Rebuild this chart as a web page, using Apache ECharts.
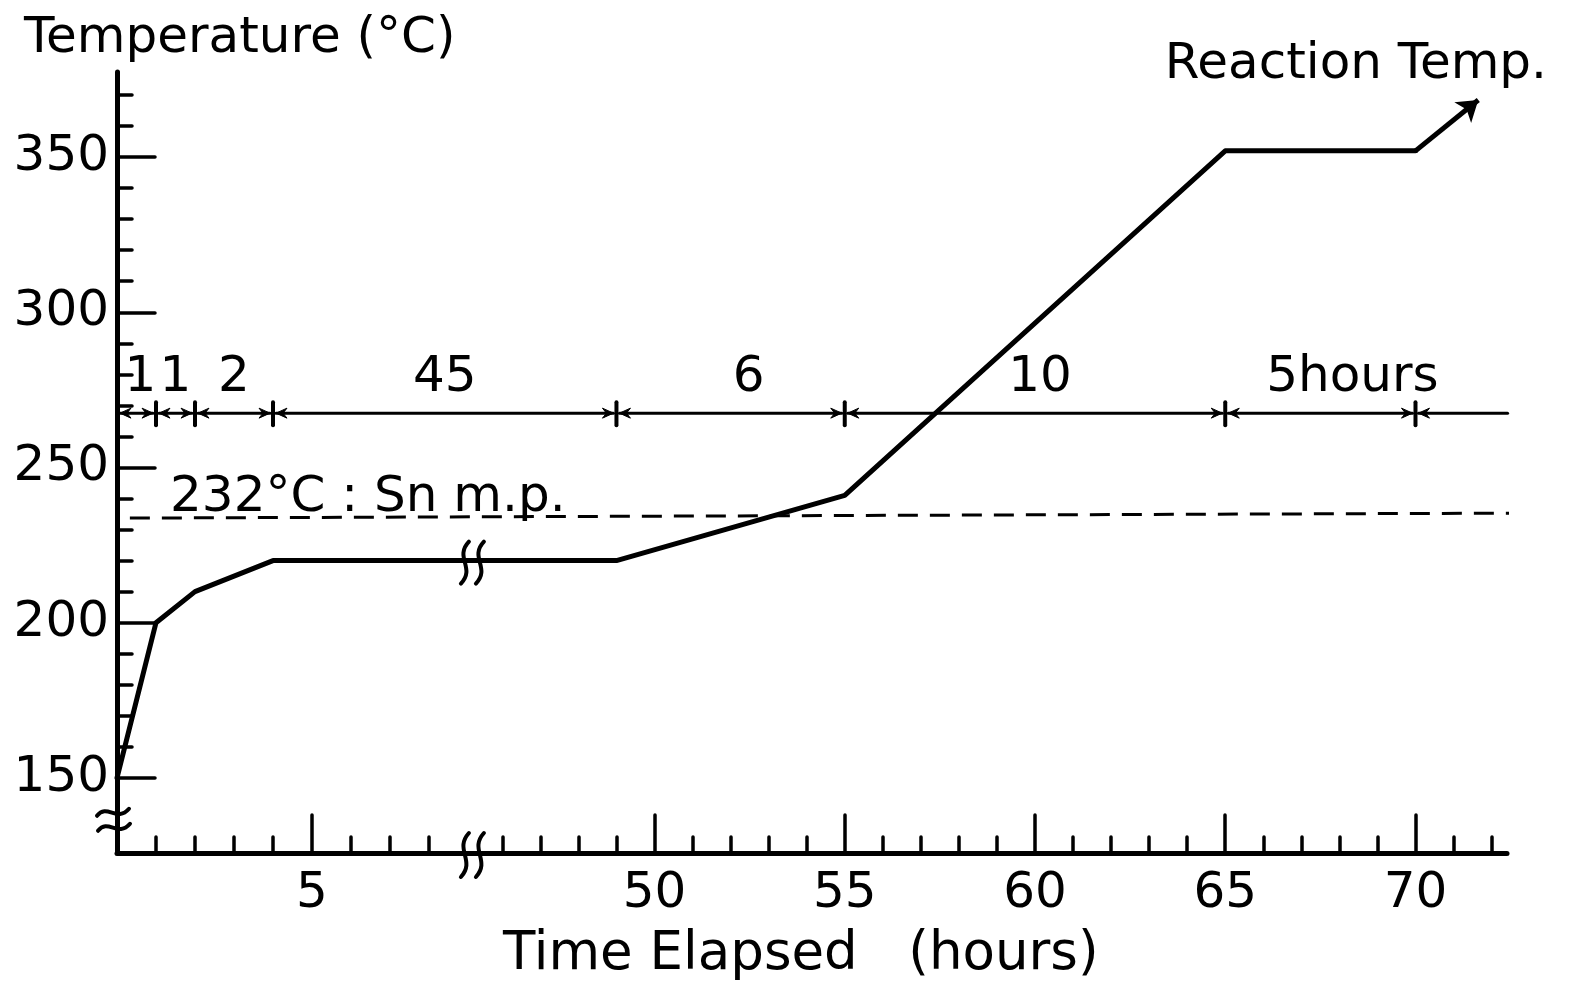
<!DOCTYPE html>
<html><head><meta charset="utf-8">
<script src="https://cdn.jsdelivr.net/npm/echarts@6/dist/echarts.min.js"></script>
<style>html,body{margin:0;padding:0;background:#fff}#chart{width:1570px;height:983px}</style>
</head><body><div id="chart"></div>
<script>
// ---------- data ----------
const timeHours      = [0, 1, 2, 4, 49, 55, 65, 70];
const temperatureC   = [150, 200, 210, 220, 220, 241, 352, 352];
const arrowFrom      = [70, 352];
const arrowTip       = [71.65, 368.4];
const snLabel        = '232°C : Sn m.p.';
const snLabelAt      = [1.36, 233.7];
const snLineHours    = [0.33, 72.8];
const snLineTemps    = [233.7, 235.3];
const segmentBounds  = [0, 1, 2, 4, 49, 55, 65, 70];
const segmentLabels  = ['1', '1', '2', '45', '6', '10', '5hours'];
const segmentTailEnd = 72.42;
const segmentLevelC  = 267.5;
const xMajorTicks    = [5, 50, 55, 60, 65, 70];
const xMinorTicks    = [1, 2, 3, 4, 6, 7, 8, 46, 47, 48, 49, 51, 52, 53, 54, 56, 57, 58, 59, 61, 62, 63, 64, 66, 67, 68, 69, 71, 72];
const yMajorTicks    = [150, 200, 250, 300, 350];
const yMinorTicks    = [160, 170, 180, 190, 210, 220, 230, 240, 260, 270, 280, 290, 310, 320, 330, 340, 360, 370];
const yBreakC        = 136.5;
const yRange         = [125.8, 377.4];

// ---------- broken time axis: 9.05 h ... 45.15 h is cut out ----------
const BREAK_L = 9.05, BREAK_R = 45.15, RIGHT_SCALE = 0.9756;
const xPos = h => h <= BREAK_L ? h : BREAK_L + (h - BREAK_R) * RIGHT_SCALE;
const hourOf = u => u <= BREAK_L + 1e-9 ? u : BREAK_R + (u - BREAK_L) / RIGHT_SCALE;
const X_MAX = 35.64;

// ---------- styles ----------
const FONT = 'DejaVu Sans';
const INK = '#000';
const LABEL_NUDGE_PX = [4, 0, 0, 0, 18, 5, 32];

const chart = echarts.init(document.getElementById('chart'), null, {renderer: 'canvas'});

function baseX(ticks, len, showLabels, showLine) {
  return {
    type: 'value', position: 'bottom', min: 0, max: X_MAX, offset: 0,
    axisLine: {show: showLine, lineStyle: {color: INK, width: 5, cap: 'round'}},
    axisTick: {show: true, inside: true, length: len, customValues: ticks.map(xPos),
               lineStyle: {color: INK, width: 3.5, cap: 'round'}},
    axisLabel: showLabels ? {show: true, customValues: xMajorTicks.map(xPos), margin: 16,
               fontSize: 50, fontFamily: FONT, color: INK,
               formatter: v => String(Math.round(hourOf(v)))} : {show: false},
    splitLine: {show: false}
  };
}
function baseY(ticks, len, showLabels, showLine) {
  return {
    type: 'value', position: 'left', min: yRange[0], max: yRange[1], offset: 0,
    axisLine: {show: showLine, lineStyle: {color: INK, width: 5, cap: 'round'}},
    axisTick: {show: true, inside: true, length: len, customValues: ticks,
               lineStyle: {color: INK, width: 3.5, cap: 'round'}},
    axisLabel: showLabels ? {show: true, customValues: yMajorTicks, margin: 8,
               fontSize: 50, fontFamily: FONT, color: INK} : {show: false},
    splitLine: {show: false}
  };
}

const stroke = (w) => ({stroke: INK, lineWidth: w, fill: null, lineCap: 'round'});

function arrowHead(tx, ty, dir) {
  return {type: 'polygon', shape: {points: [
    [tx, ty], [tx - dir * 11, ty - 5], [tx - dir * 7, ty], [tx - dir * 11, ty + 5]
  ]}, style: {fill: INK, stroke: INK, lineWidth: 1}};
}

const segData = [];
for (let i = 0; i < segmentLabels.length; i++) {
  segData.push([xPos(segmentBounds[i]), xPos(segmentBounds[i + 1]), segmentLevelC, i]);
}
segData.push([xPos(segmentTailEnd), xPos(segmentBounds[segmentBounds.length - 1]), segmentLevelC, -1]);

function renderSeg(params, api) {
  const x0 = api.value(0), x1 = api.value(1), lev = api.value(2), idx = api.value(3);
  const p0 = api.coord([x0, lev]), p1 = api.coord([x1, lev]);
  const y = p0[1];
  const children = [];
  if (idx < 0) {
    children.push({type: 'line', shape: {x1: p0[0], y1: y, x2: p1[0] + 3, y2: y}, style: stroke(3)});
    children.push(arrowHead(p1[0] + 3, y, -1));
    return {type: 'group', children};
  }
  const a = p0[0] + 3, b = p1[0] - 3;
  children.push({type: 'line', shape: {x1: a, y1: y, x2: b, y2: y}, style: stroke(3)});
  children.push(arrowHead(a, y, -1));
  children.push(arrowHead(b, y, 1));
  children.push({type: 'line', shape: {x1: p1[0], y1: y - 11, x2: p1[0], y2: y + 12}, style: stroke(4)});
  children.push({type: 'text', style: {
    text: segmentLabels[idx], x: (p0[0] + p1[0]) / 2 + LABEL_NUDGE_PX[idx], y: y - 35,
    align: 'center', verticalAlign: 'middle', fontSize: 50, fontFamily: FONT, fill: INK}});
  return {type: 'group', children};
}

const breakData = [
  [BREAK_L + 0.05, yRange[0], 0],
  [BREAK_L + 0.05, 220, 1],
  [0, yBreakC, 2]
];
function sCurve(cx, cy, h) {
  return {type: 'bezierCurve', shape: {x1: cx + 4, y1: cy - h, cpx1: cx - 11, cpy1: cy - h * 0.25,
    cpx2: cx + 11, cpy2: cy + h * 0.25, x2: cx - 4, y2: cy + h}, style: stroke(4)};
}
function tilde(cx, cy) {
  return {type: 'bezierCurve', shape: {x1: cx - 16, y1: cy + 3, cpx1: cx - 6, cpy1: cy - 10,
    cpx2: cx + 4, cpy2: cy + 10, x2: cx + 16, y2: cy - 4}, style: stroke(4)};
}
function renderBreak(params, api) {
  const p = api.coord([api.value(0), api.value(1)]);
  const kind = api.value(2);
  if (kind === 2) {
    return {type: 'group', children: [tilde(p[0] - 4, p[1] - 7), tilde(p[0] - 3, p[1] + 8)]};
  }
  const h = kind === 0 ? 22 : 21;
  return {type: 'group', children: [sCurve(p[0] - 7, p[1] + 2, h), sCurve(p[0] + 8, p[1] + 2, h)]};
}

function renderSnLabel(params, api) {
  const p = api.coord([api.value(0), api.value(1)]);
  return {type: 'text', style: {text: snLabel, x: p[0], y: p[1] - 20, align: 'left',
    verticalAlign: 'middle', fontSize: 50, fontFamily: FONT, fill: INK}};
}

const option = {
  backgroundColor: '#fff',
  animation: false,
  title: [
    {text: 'Temperature (°C)', left: 24, top: 14, padding: 0,
     textStyle: {fontSize: 50, fontWeight: 'normal', fontFamily: FONT, color: INK}},
    {text: 'Reaction Temp.', right: 23, top: 40, padding: 0,
     textStyle: {fontSize: 50, fontWeight: 'normal', fontFamily: FONT, color: INK}},
    {text: 'Time Elapsed   (hours)', left: 503, top: 929, padding: 0,
     textStyle: {fontSize: 53, fontWeight: 'normal', fontFamily: FONT, color: INK}}
  ],
  grid: {left: 117, right: 63, top: 72, bottom: 130, containLabel: false},
  xAxis: [baseX(xMinorTicks, 16, true, true), baseX(xMajorTicks, 38, false, false)],
  yAxis: [baseY(yMinorTicks, 15, true, true), baseY(yMajorTicks, 38, false, false)],
  series: [
    {type: 'line', name: 'Temperature', xAxisIndex: 0, yAxisIndex: 0,
     data: timeHours.map((h, i) => [xPos(h), temperatureC[i]]),
     symbol: 'none', lineStyle: {color: INK, width: 5, cap: 'round', join: 'round'}, z: 5},
    {type: 'lines', coordinateSystem: 'cartesian2d', xAxisIndex: 0, yAxisIndex: 0,
     data: [{coords: [[xPos(arrowFrom[0]), arrowFrom[1]], [xPos(arrowTip[0]), arrowTip[1]]]}],
     symbol: ['none', 'arrow'], symbolSize: 20,
     lineStyle: {color: INK, width: 5, opacity: 1, curveness: 0}, z: 5},
    {type: 'line', name: 'Sn m.p.', xAxisIndex: 0, yAxisIndex: 0, clip: false,
     data: snLineHours.map((h, i) => [xPos(h), snLineTemps[i]]),
     symbol: 'none', lineStyle: {color: INK, width: 3, type: [20, 12]}, z: 4},
    {type: 'custom', xAxisIndex: 0, yAxisIndex: 0, clip: false,
     data: [[xPos(snLabelAt[0]), snLabelAt[1]]], encode: {x: 0, y: 1}, renderItem: renderSnLabel, z: 6},
    {type: 'custom', xAxisIndex: 0, yAxisIndex: 0, clip: false,
     data: segData, encode: {x: [0, 1], y: 2}, renderItem: renderSeg, z: 6},
    {type: 'custom', xAxisIndex: 0, yAxisIndex: 0, clip: false,
     data: breakData, encode: {x: 0, y: 1}, renderItem: renderBreak, z: 7}
  ]
};
chart.setOption(option);
</script>
</body></html>
